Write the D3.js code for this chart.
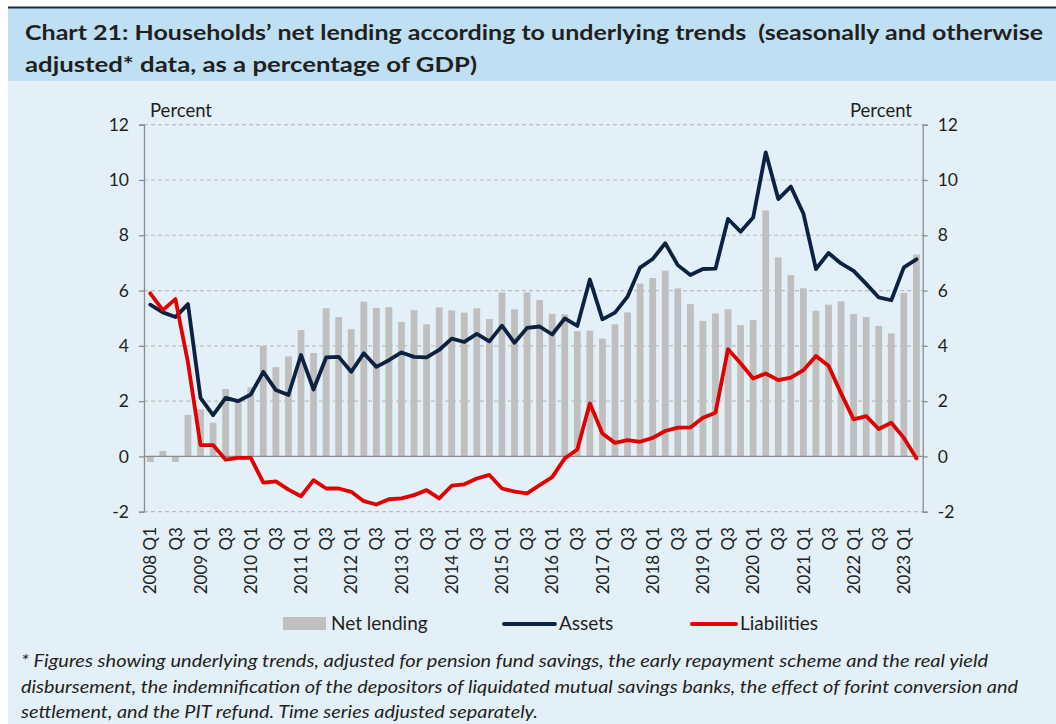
<!DOCTYPE html>
<html>
<head>
<meta charset="utf-8">
<script src="https://cdn.jsdelivr.net/npm/d3@7"></script>
<style>
  html, body { margin: 0; padding: 0; background: #ffffff; }
  svg { display: block; font-family: Lato, 'Noto Sans', sans-serif; }
</style>
</head>
<body>
<svg id="chart" width="1056" height="724"></svg>
<script>
// Quarters 2008 Q1 .. 2023 Q2
const years = d3.range(2008, 2024);
const quarters = years.flatMap((y) => ['Q1', 'Q2', 'Q3', 'Q4'].map((q) => `${y} ${q}`)).slice(0, 62);

const netLending = [
  -0.2, 0.2, -0.2, 1.5, 1.7, 1.22, 2.44, 2.0, 2.5, 4.0, 3.23, 3.62,
  4.57, 3.74, 5.36, 5.04, 4.6, 5.6, 5.37, 5.4, 4.86, 5.29, 4.78, 5.39,
  5.28, 5.2, 5.36, 4.97, 5.93, 5.32, 5.93, 5.66, 5.16, 5.14, 4.53, 4.55,
  4.26, 4.78, 5.21, 6.25, 6.45, 6.72, 6.08, 5.51, 4.9, 5.17, 5.32, 4.75,
  4.93, 8.9, 7.2, 6.56, 6.08, 5.27, 5.49, 5.61, 5.15, 5.04, 4.72, 4.45,
  5.91, 7.3,
];

const assets = [
  5.49, 5.21, 5.04, 5.51, 2.12, 1.49, 2.12, 2.0, 2.24, 3.06, 2.4, 2.22,
  3.67, 2.42, 3.58, 3.6, 3.06, 3.73, 3.24, 3.48, 3.76, 3.6, 3.58, 3.85,
  4.26, 4.14, 4.43, 4.16, 4.73, 4.11, 4.65, 4.7, 4.41, 4.99, 4.72, 6.4,
  4.96, 5.2, 5.78, 6.83, 7.14, 7.71, 6.92, 6.56, 6.78, 6.79, 8.59, 8.13,
  8.64, 11.0, 9.31, 9.76, 8.79, 6.78, 7.36, 6.98, 6.71, 6.24, 5.75, 5.65,
  6.84, 7.13,
];

const liabilities = [
  5.9, 5.29, 5.69, 3.4, 0.41, 0.41, -0.12, -0.05, -0.05, -0.95, -0.9, -1.2,
  -1.44, -0.86, -1.16, -1.16, -1.28, -1.62, -1.74, -1.55, -1.52, -1.4, -1.22, -1.52,
  -1.06, -1.01, -0.8, -0.67, -1.16, -1.27, -1.34, -1.04, -0.75, -0.07, 0.25, 1.92,
  0.83, 0.49, 0.59, 0.53, 0.67, 0.92, 1.04, 1.05, 1.4, 1.58, 3.88, 3.37,
  2.82, 3.0, 2.76, 2.85, 3.12, 3.63, 3.28, 2.28, 1.34, 1.46, 0.99, 1.22,
  0.67, -0.07,
];

const yTicks = [-2, 0, 2, 4, 6, 8, 10, 12];

const titleLines = [
  'Chart 21: Households\u2019 net lending according to underlying trends  (seasonally and otherwise',
  'adjusted* data, as a percentage of GDP)',
];
const footnoteLines = [
  '* Figures showing underlying trends, adjusted for pension fund savings, the early repayment scheme and the real yield',
  'disbursement, the indemnification of the depositors of liquidated mutual savings banks, the effect of forint conversion and',
  'settlement, and the PIT refund. Time series adjusted separately.',
];

const navy = '#0d2240';
const red = '#e00000';
const barGray = '#bfbfbf';
const axisGray = '#8c8c8c';
const textColor = '#231f20';

const svg = d3.select('#chart');

// Background panels
svg.append('rect').attr('x', 8).attr('y', 8).attr('width', 1048).attr('height', 716).attr('fill', '#e3f0f7');
svg.append('rect').attr('x', 8).attr('y', 8).attr('width', 1048).attr('height', 73).attr('fill', '#bee0f2');
svg.append('line').attr('x1', 8).attr('x2', 1056).attr('y1', 7.5).attr('y2', 7.5)
  .attr('stroke', '#1c2a55').attr('stroke-width', 2);

// Title
const titleWidths = [1018, 452];
svg.append('g').selectAll('text').data(titleLines).enter().append('text')
  .attr('x', 25)
  .attr('y', (d, i) => 40 + i * 32)
  .attr('font-size', 21)
  .attr('font-weight', 'bold')
  .attr('fill', textColor)
  .attr('textLength', (d, i) => titleWidths[i])
  .attr('lengthAdjust', 'spacingAndGlyphs')
  .style('white-space', 'pre')
  .text((d) => d);

// Scales
const x = d3.scaleBand().domain(quarters).range([144, 922.7]).paddingInner(0.46).paddingOuter(0.23);
const y = d3.scaleLinear().domain([-2, 12]).range([511.7, 124.7]);
const cx = (i) => x(quarters[i]) + x.bandwidth() / 2;

// Gridlines
svg.append('g').selectAll('line').data(yTicks.filter((t) => t !== 0)).enter().append('line')
  .attr('x1', 144).attr('x2', 922.7)
  .attr('y1', (d) => y(d)).attr('y2', (d) => y(d))
  .attr('stroke', '#bdbdbd').attr('stroke-width', 1.2).attr('stroke-dasharray', '4,3');

// Bars
svg.append('g').selectAll('rect').data(netLending).enter().append('rect')
  .attr('x', (d, i) => x(quarters[i]))
  .attr('width', x.bandwidth())
  .attr('y', (d) => y(Math.max(0, d)))
  .attr('height', (d) => Math.abs(y(d) - y(0)))
  .attr('fill', barGray);

// Zero line
svg.append('line').attr('x1', 144).attr('x2', 922.7).attr('y1', y(0)).attr('y2', y(0))
  .attr('stroke', axisGray).attr('stroke-width', 1.3);

// Axes (plain hyphen for negatives, as in the original)
const fmt = (d) => String(d);
const leftAxis = d3.axisLeft(y).tickValues(yTicks).tickFormat(fmt).tickSize(5).tickPadding(10);
const rightAxis = d3.axisRight(y).tickValues(yTicks).tickFormat(fmt).tickSize(5).tickPadding(10);

const gl = svg.append('g').attr('transform', 'translate(144,0)').call(leftAxis);
const gr = svg.append('g').attr('transform', 'translate(922.7,0)').call(rightAxis);
[gl, gr].forEach((g) => {
  g.select('.domain').attr('stroke', axisGray).attr('stroke-width', 1.3);
  g.selectAll('.tick line').attr('stroke', axisGray).attr('stroke-width', 1.3);
  g.selectAll('.tick text').attr('font-size', 17.5).attr('fill', textColor).attr('font-family', 'Lato, sans-serif');
});

// Percent labels
svg.append('text').attr('x', 150).attr('y', 117).attr('font-size', 18.5).attr('fill', textColor).text('Percent');
svg.append('text').attr('x', 912).attr('y', 117).attr('font-size', 18.5).attr('fill', textColor)
  .attr('text-anchor', 'end').text('Percent');

// X labels (every other quarter)
svg.append('g').selectAll('text').data(quarters.filter((q, i) => i % 2 === 0)).enter().append('text')
  .attr('transform', (d) => `translate(${x(d) + x.bandwidth() / 2},527) rotate(-90)`)
  .attr('text-anchor', 'end')
  .attr('dy', '0.36em')
  .attr('font-size', 17)
  .attr('fill', textColor)
  .text((d) => (d.endsWith('Q1') ? d : d.slice(5)));

// Lines
const line = d3.line().x((d, i) => cx(i)).y((d) => y(d));
[[assets, navy], [liabilities, red]].forEach(([data, color]) => {
  svg.append('path').datum(data)
    .attr('d', line)
    .attr('fill', 'none')
    .attr('stroke', color)
    .attr('stroke-width', 3.8)
    .attr('stroke-linejoin', 'round')
    .attr('stroke-linecap', 'round');
});

// Legend
const legend = svg.append('g').attr('font-size', 19).attr('fill', textColor);
legend.append('rect').attr('x', 283).attr('y', 617).attr('width', 43).attr('height', 13).attr('fill', barGray);
legend.append('text').attr('x', 331).attr('y', 630).text('Net lending');
legend.append('line').attr('x1', 504).attr('x2', 555).attr('y1', 624).attr('y2', 624)
  .attr('stroke', navy).attr('stroke-width', 3.8).attr('stroke-linecap', 'round');
legend.append('text').attr('x', 559).attr('y', 630).text('Assets');
legend.append('line').attr('x1', 692).attr('x2', 736).attr('y1', 624).attr('y2', 624)
  .attr('stroke', red).attr('stroke-width', 3.8).attr('stroke-linecap', 'round');
legend.append('text').attr('x', 740).attr('y', 630).text('Liabilities');

// Footnote
const footWidths = [967, 997, 517];
svg.append('g').selectAll('text').data(footnoteLines).enter().append('text')
  .attr('x', 21)
  .attr('y', (d, i) => 667 + i * 25.5)
  .attr('font-size', 17)
  .attr('font-style', 'italic')
  .attr('fill', textColor)
  .attr('textLength', (d, i) => footWidths[i])
  .attr('lengthAdjust', 'spacingAndGlyphs')
  .text((d) => d);
</script>
</body>
</html>
